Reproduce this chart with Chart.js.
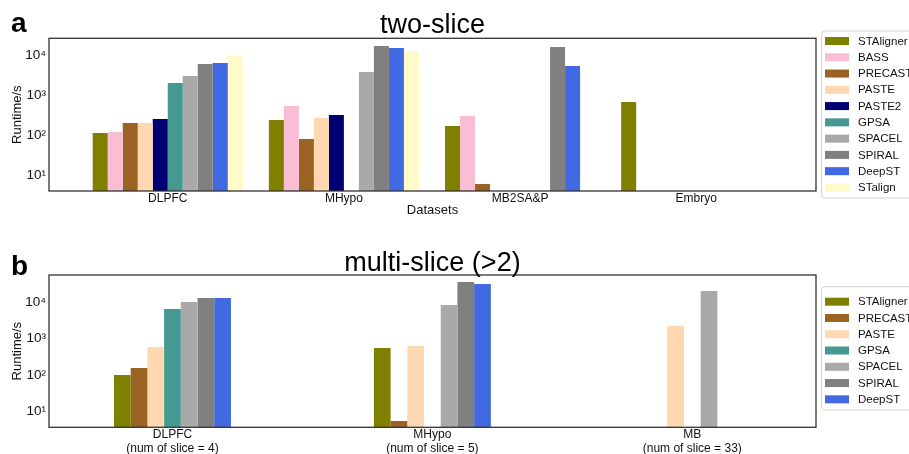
<html>
<head>
  <script src="https://cdn.jsdelivr.net/npm/chart.js@4.4.0/dist/chart.umd.min.js"></script>
</head>

<body style="padding: 0; margin: 0; font-family: 'Liberation Sans', Arial;">

<div style="position: relative; width: 909px; height: 227px"><canvas id="chart-a"></canvas></div>
<div style="position: relative; width: 909px; height: 227px"><canvas id="chart-b"></canvas></div>

<script>
  // runtime in seconds (log scale)
  const twoSliceLabels = ['DLPFC', 'MHypo', 'MB2SA&P', 'Embryo']
  const twoSTAligner = [115, 244, 173, 688]
  const twoBASS      = [122, 546, 307, null]
  const twoPRECAST   = [205, 82, 6.1, null]
  const twoPASTE     = [205, 274, null, null]
  const twoPASTE2    = [258, 325, null, null]
  const twoGPSA      = [2050, null, null, null]
  const twoSPACEL    = [3070, 3870, null, null]
  const twoSPIRAL    = [6130, 17300, 16300, null]
  const twoDeepST    = [6490, 15400, 5460, null]
  const twoSTalign   = [9720, 12950, null, null]

  const multiSliceLabels = [['DLPFC', '(num of slice = 4)'], ['MHypo', '(num of slice = 5)'], ['MB', '(num of slice = 33)']]
  const multiSTAligner = [99, 553, null]
  const multiPRECAST   = [155, 5.3, null]
  const multiPASTE     = [590, 628, 2240]
  const multiGPSA      = [6610, null, null]
  const multiSPACEL    = [10300, 8530, 20800]
  const multiSPIRAL    = [13300, 36800, null]
  const multiDeepST    = [13300, 32400, null]

  const yTicks = [10, 100, 1000, 10000]

  const colors = {
    STAligner: '#808000', BASS: '#fabed4', PRECAST: '#9a6324', PASTE: '#ffd8b1', PASTE2: '#000075',
    GPSA: '#469990', SPACEL: '#a9a9a9', SPIRAL: '#808080', DeepST: '#4169e1', STalign: '#fffac8',
  }

  const twoSlice = [
    ['STAligner', twoSTAligner], ['BASS', twoBASS], ['PRECAST', twoPRECAST], ['PASTE', twoPASTE], ['PASTE2', twoPASTE2],
    ['GPSA', twoGPSA], ['SPACEL', twoSPACEL], ['SPIRAL', twoSPIRAL], ['DeepST', twoDeepST], ['STalign', twoSTalign],
  ]
  const multiSlice = [
    ['STAligner', multiSTAligner], ['PRECAST', multiPRECAST], ['PASTE', multiPASTE], ['GPSA', multiGPSA],
    ['SPACEL', multiSPACEL], ['SPIRAL', multiSPIRAL], ['DeepST', multiDeepST],
  ]

  Chart.defaults.font.family = "'Liberation Sans', Arial"
  Chart.defaults.color = '#111'

  const sup = ['⁰', '¹', '²', '³', '⁴', '⁵']

  const decor = {
    id: 'decor',
    afterDatasetsDraw(chart, args, opts) {
      const {ctx, chartArea: a} = chart
      ctx.save()
      ctx.strokeStyle = '#333'
      ctx.lineWidth = 1.3
      ctx.strokeRect(a.left, a.top, a.right - a.left, a.bottom - a.top)
      ctx.restore()
    },
    afterDraw(chart, args, opts) {
      const {ctx, chartArea: a} = chart
      ctx.save()
      ctx.fillStyle = '#000'
      ctx.textBaseline = 'alphabetic'
      ctx.font = "bold 28px 'Liberation Sans'"
      ctx.fillText(opts.letter, 11, opts.letterY)
      ctx.font = "27px 'Liberation Sans'"
      ctx.textAlign = 'center'
      ctx.fillText(opts.title, (a.left + a.right) / 2, opts.titleY)

      // legend box on the right
      ctx.strokeStyle = '#d4d4d4'
      ctx.lineWidth = 1
      ctx.fillStyle = '#fff'
      ctx.beginPath()
      ctx.roundRect(821.5, opts.legendTop, 120, opts.legendBottom - opts.legendTop, 3)
      ctx.fill()
      ctx.stroke()
      ctx.textAlign = 'left'
      ctx.textBaseline = 'middle'
      ctx.font = "11.5px 'Liberation Sans'"
      chart.data.datasets.forEach((ds, i) => {
        const y = opts.firstRow + i * 16.27
        ctx.fillStyle = ds.backgroundColor
        ctx.fillRect(825, y - 4, 24, 8)
        ctx.fillStyle = '#111'
        ctx.fillText(ds.label, 858, y + 0.5)
      })
      ctx.restore()
    }
  }

  const makeChart = (id, labels, series, cfg) => {
    return new Chart(document.getElementById(id).getContext('2d'), {
      type: 'bar',
      data: {
        datasets: series.map(([name, values]) => {return {
          label: name,
          data: values.map((v, i) => {return {x: i, y: v}}),
          backgroundColor: colors[name],
          borderWidth: 0,
          barPercentage: 1,
          categoryPercentage: cfg.groupWidth,
        }})
      },
      options: {
        responsive: true,
        maintainAspectRatio: false,
        animation: false,
        events: [],
        layout: {padding: {top: cfg.top, right: 93, bottom: 0, left: 0}},
        plugins: {legend: {display: false}, tooltip: {enabled: false}, decor: cfg.decor},
        scales: {
          x: {
            type: 'linear',
            offset: false,
            min: cfg.xMin,
            max: cfg.xMax,
            grid: {display: false, drawTicks: false, tickLength: 0, offset: false},
            border: {display: false},
            afterBuildTicks: s => { s.ticks = labels.map((l, i) => {return {value: i}}) },
            afterFit: s => { s.height = cfg.xHeight },
            ticks: {
              autoSkip: false, maxRotation: 0, padding: 0,
              font: {size: 12},
              callback: v => labels[Math.round(v)],
            },
            title: {display: !!cfg.xTitle, text: cfg.xTitle, font: {size: 13}, padding: {top: 0, bottom: 9}},
          },
          y: {
            type: 'logarithmic',
            min: cfg.yMin,
            max: cfg.yMax,
            grid: {display: false, drawTicks: false, tickLength: 0},
            border: {display: false},
            afterBuildTicks: s => { s.ticks = yTicks.map(v => {return {value: v}}) },
            afterFit: s => { s.width = 49 },
            ticks: {
              padding: 3,
              font: {size: 13.5},
              callback: v => '10' + sup[Math.round(Math.log10(v))],
            },
            title: {display: true, text: 'Runtime/s', font: {size: 13}, padding: {top: 10, bottom: 0}},
          },
        },
      },
      plugins: [decor],
    })
  }

  makeChart('chart-a', twoSliceLabels, twoSlice, {
    groupWidth: 0.852, top: 38.3, xHeight: 36, xMin: -0.674, xMax: 3.68, yMin: 4.1, yMax: 26900,
    xTitle: 'Datasets',
    decor: {letter: 'a', letterY: 32, title: 'two-slice', titleY: 33, legendTop: 31, legendBottom: 198, firstRow: 41},
  })

  makeChart('chart-b', multiSliceLabels, multiSlice, {
    groupWidth: 0.45, top: 48, xHeight: 26.7, xMin: -0.475, xMax: 2.476, yMin: 3.57, yMax: 57500,
    xTitle: '',
    decor: {letter: 'b', letterY: 48, title: 'multi-slice (>2)', titleY: 43.7, legendTop: 59.7, legendBottom: 183, firstRow: 74.7},
  })
</script>
</body>
</html>
